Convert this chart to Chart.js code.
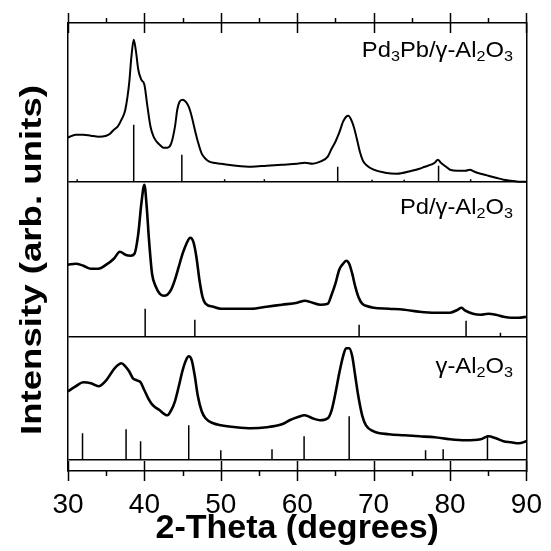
<!DOCTYPE html>
<html>
<head>
<meta charset="utf-8">
<script src="https://cdn.jsdelivr.net/npm/chart.js@4.4.1/dist/chart.umd.min.js"></script>
<style>
  html, body { margin: 0; padding: 0; background: #fff; }
  #wrap { width: 551px; height: 551px; }
</style>
</head>
<body>
<div id="wrap"><canvas id="chartXrd"></canvas></div>
<script>
// Pd3Pb/γ-Al2O3 (top)
const pd3pbAngle = [30, 31, 32, 33, 34, 35, 35.5, 36, 36.5, 37, 37.5, 38, 38.3, 38.6, 38.9, 39.2, 39.6, 40, 40.4, 40.8,
    41.2, 41.6, 42, 42.5, 43, 43.5, 44, 44.3, 44.6, 45, 45.4, 45.8, 46.2, 46.6, 47, 47.5, 48, 48.5, 49, 50,
    52, 54, 56, 58, 60, 61, 62, 63, 64, 64.5, 65, 65.5, 66, 66.4, 66.7, 67, 67.4, 67.8, 68.2, 68.6,
    69, 70, 71.5, 73, 75, 76, 76.7, 77.5, 78, 78.4, 78.8, 79.3, 80, 81, 82, 82.6, 83.2, 84, 85, 86, 87, 88, 89, 90];
const pd3pbIntensity = [44, 47, 47, 46, 45, 46, 48, 52, 55, 62, 72, 98, 125, 142, 130, 112, 102, 97, 75, 55,
    45, 40, 37, 34, 34, 38, 55, 72, 80, 82, 80, 75, 65, 52, 40, 28, 23, 20, 19, 18,
    16, 15, 16, 17, 18, 19, 18, 20, 25, 33, 40, 49, 60, 65, 66, 63, 55, 43, 30, 21,
    17, 12, 9, 8, 11, 13, 15, 17, 19, 22, 19, 16, 12, 11, 11, 12, 10, 8, 6, 4, 2, 1, 0, 0];

// Pd/γ-Al2O3 (middle)
const pdAngle = [30, 31, 32, 33, 34, 35, 36, 36.8, 37.5, 38.2, 38.7, 39.2, 39.6, 40, 40.3, 40.6, 41, 41.5, 42, 42.5,
    43, 43.5, 44, 44.5, 45, 45.5, 46, 46.4, 46.8, 47.2, 47.6, 48, 49, 50, 52, 54, 56, 58, 60, 61,
    62, 63, 64, 64.5, 65, 65.5, 66, 66.4, 66.8, 67.2, 67.6, 68, 68.5, 69, 70, 72, 74, 76, 78, 80,
    81, 81.5, 82, 83, 84, 85, 86, 87, 88, 89, 90];
const pdIntensity = [72, 73, 71, 68, 68, 72, 78, 85, 82, 81, 83, 103, 133, 152, 130, 97, 63, 50, 43, 41,
    42, 47, 57, 70, 83, 93, 99, 95, 80, 57, 40, 33, 30, 28, 28, 28, 30, 32, 34, 36,
    34, 32, 33, 42, 53, 67, 73, 76, 73, 63, 50, 40, 33, 31, 29, 28, 27, 25, 24, 24,
    27, 29, 26, 23, 22, 23, 22, 20, 19, 19, 20];

// γ-Al2O3 (bottom)
const aluminaAngle = [30, 31, 32, 33, 34, 35, 36, 36.5, 37, 37.5, 38, 38.5, 39, 39.5, 40, 40.5, 41, 42, 43, 43.5,
    44, 44.5, 45, 45.5, 45.8, 46.2, 46.6, 47, 47.5, 48, 49, 50, 52, 54, 56, 58, 59, 60, 61, 62,
    63, 64, 64.5, 65, 65.5, 66, 66.4, 66.8, 67.2, 67.6, 68, 68.5, 69, 70, 72, 74, 76, 78, 80, 82,
    84, 85, 86, 87, 88, 89, 90];
const aluminaIntensity = [68, 73, 77, 76, 73, 79, 90, 94, 96, 93, 88, 81, 79, 77, 69, 61, 55, 49, 44, 49,
    58, 73, 89, 100, 103, 99, 83, 63, 48, 41, 36, 34, 32, 31, 32, 35, 39, 42, 44, 41,
    39, 41, 49, 66, 86, 103, 111, 111, 103, 83, 63, 44, 34, 28, 25, 24, 23, 22, 20, 19,
    20, 23, 21, 18, 17, 16, 18];

// reference stick patterns
const pd3pbStickAngle = [31.2, 38.6, 44.9, 50.5, 55.7, 65.3, 69.8, 74.0, 78.5, 82.7];
const pd3pbStickHeight = [2.5, 57, 27, 2.5, 2.5, 15, 2, 2, 16, 2.5];
const pdStickAngle = [40.1, 46.6, 68.1, 82.1, 86.6];
const pdStickHeight = [28, 17, 12, 16, 4];
const aluminaStickAngle = [31.9, 37.6, 39.5, 45.8, 50.0, 56.7, 60.9, 66.8, 76.8, 79.1, 84.9];
const aluminaStickHeight = [26, 30, 18, 34, 9, 10, 23, 43, 9, 10, 24];

const panelLabels = ['Pd3Pb/γ-Al2O3', 'Pd/γ-Al2O3', 'γ-Al2O3'];
const xTicks = [30, 40, 50, 60, 70, 80, 90];

// vertical stacking (y axis in arbitrary units, 0 = x axis)
const panels = [
    { angle: pd3pbAngle, intensity: pd3pbIntensity, sticks: pd3pbStickAngle, heights: pd3pbStickHeight, base: 289.3, labelY: 414, width: 2 },
    { angle: pdAngle, intensity: pdIntensity, sticks: pdStickAngle, heights: pdStickHeight, base: 134.3, labelY: 257, width: 2.6 },
    { angle: aluminaAngle, intensity: aluminaIntensity, sticks: aluminaStickAngle, heights: aluminaStickHeight, base: 11.7, labelY: 98, width: 2.6 }
];

const FONT = '"Liberation Sans", Arial, sans-serif';

let datasets = [];
panels.forEach(p => {
    datasets.push({
        data: p.angle.map((a, i) => ({ x: a, y: p.base + p.intensity[i] })),
        borderColor: '#000',
        borderWidth: p.width,
        pointRadius: 0,
        cubicInterpolationMode: 'monotone'
    });
    let stickData = [];
    p.sticks.forEach((a, i) => {
        stickData.push({ x: a, y: p.base }, { x: a, y: p.base + p.heights[i] }, { x: a, y: null });
    });
    datasets.push({
        data: stickData,
        borderColor: '#000',
        borderWidth: 1.5,
        pointRadius: 0,
        spanGaps: false
    });
});

const decorations = {
    id: 'decorations',
    afterDraw(chart) {
        const { ctx, chartArea: { top, bottom } } = chart;
        const x = chart.scales.x;
        const y = chart.scales.y;
        ctx.save();
        ctx.strokeStyle = '#000';
        ctx.lineWidth = 1.5;
        for (let v = 30; v <= 90; v += 5) {
            const px = Math.round(x.getPixelForValue(v)) + 0.5;
            ctx.beginPath();
            if (v % 10 === 0) {
                ctx.moveTo(px, bottom - 10); ctx.lineTo(px, bottom + 10);
                ctx.moveTo(px, top - 10); ctx.lineTo(px, top + 10);
            } else {
                ctx.moveTo(px, bottom); ctx.lineTo(px, bottom + 5);
                ctx.moveTo(px, top); ctx.lineTo(px, top - 5);
            }
            ctx.stroke();
        }

        // panel labels with subscripts
        ctx.fillStyle = '#000';
        ctx.textBaseline = 'alphabetic';
        panelLabels.forEach((label, k) => {
            const parts = label.split(/(\d)/).filter(s => s.length);
            const big = '22px ' + FONT, small = '15px ' + FONT;
            let w = 0;
            parts.forEach(s => { ctx.font = /\d/.test(s) ? small : big; w += ctx.measureText(s).width; });
            const sx = 1.08;
            const baseY = y.getPixelForValue(panels[k].labelY);
            ctx.save();
            ctx.translate(513 - w * sx, baseY);
            ctx.scale(sx, 1);
            let cx = 0;
            parts.forEach(s => {
                const sub = /\d/.test(s);
                ctx.font = sub ? small : big;
                ctx.fillText(s, cx, sub ? 4 : 0);
                cx += ctx.measureText(s).width;
            });
            ctx.restore();
        });

        // y axis title
        ctx.font = 'bold 29px ' + FONT;
        ctx.textAlign = 'center';
        const title = 'Intensity (arb. units)';
        const tw = ctx.measureText(title).width;
        ctx.translate(41, 260);
        ctx.rotate(-Math.PI / 2);
        ctx.scale(350 / tw, 1);
        ctx.fillText(title, 0, 0);
        ctx.restore();
    }
};

let contextXrd = document.querySelector('#chartXrd').getContext('2d');

let config = {
    type: 'line',
    data: { datasets: datasets },
    options: {
        responsive: true,
        maintainAspectRatio: false,
        animation: false,
        events: [],
        layout: { padding: { left: 0, right: 18, top: 23, bottom: 0 } },
        plugins: { legend: { display: false }, tooltip: { enabled: false } },
        scales: {
            x: {
                type: 'linear', position: 'bottom', min: 30, max: 90,
                afterBuildTicks: s => { s.ticks = xTicks.map(v => ({ value: v })); },
                afterFit: s => { s.height = 80; },
                border: { display: true, color: '#000', width: 1.5 },
                grid: { display: false },
                ticks: { color: '#000', font: { family: FONT, size: 28 }, padding: 9, maxRotation: 0, autoSkip: false },
                title: {
                    display: true, text: '2-Theta (degrees)', color: '#000',
                    font: { family: FONT, size: 34, weight: 'bold', lineHeight: 1.2 },
                    padding: { top: 0, bottom: 2 }
                }
            },
            xTop: {
                type: 'linear', position: 'top', min: 30, max: 90,
                afterFit: s => { s.height = 0; },
                border: { display: true, color: '#000', width: 1.5 },
                grid: { display: false },
                ticks: { display: false }
            },
            y: {
                type: 'linear', position: 'left', min: 0, max: 448,
                afterBuildTicks: s => { s.ticks = panels.map(p => ({ value: p.base })); },
                afterFit: s => { s.width = 68; },
                border: { display: true, color: '#000', width: 1.5 },
                grid: { color: '#000', lineWidth: 1.5, drawTicks: false },
                ticks: { display: false }
            },
            yRight: {
                type: 'linear', position: 'right', min: 0, max: 448,
                afterFit: s => { s.width = 0; },
                border: { display: true, color: '#000', width: 1.5 },
                grid: { display: false },
                ticks: { display: false }
            }
        }
    },
    plugins: [decorations]
};

let chartXrd = new Chart(contextXrd, config);
</script>
</body>
</html>
